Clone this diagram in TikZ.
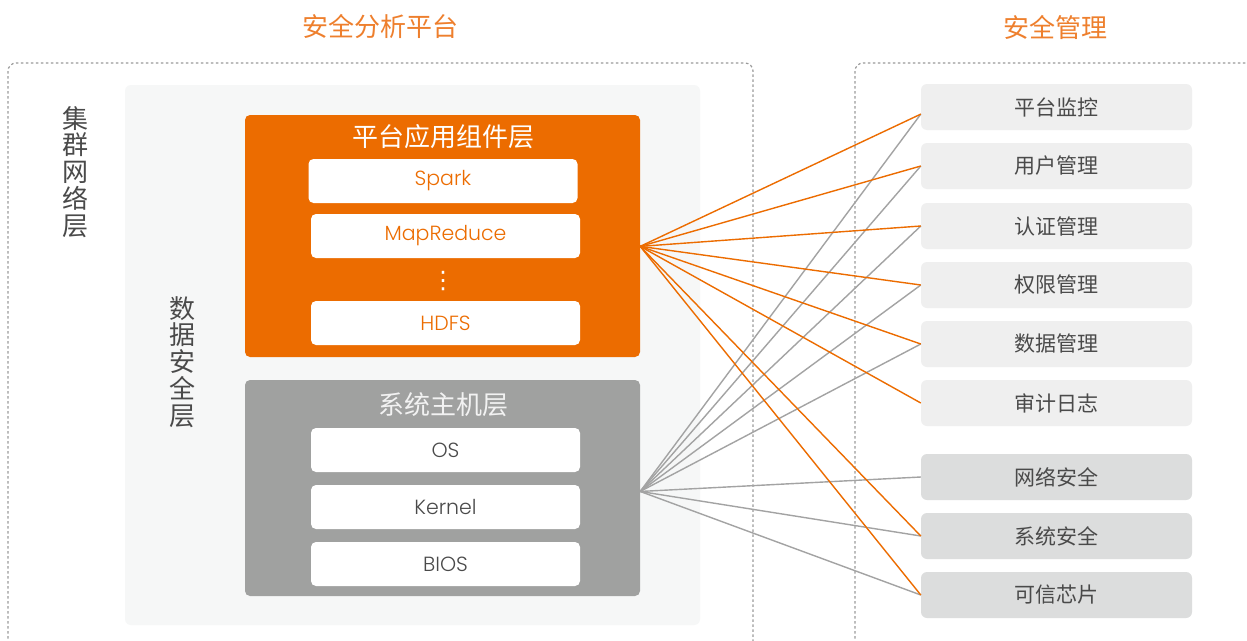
\documentclass[tikz,border=0pt]{standalone}
\usepackage{fontspec}
\setmainfont{Poppins}[UprightFont=* Light]
\newfontfamily\cjk{Noto Sans CJK SC}
\newfontfamily\dejavu{DejaVu Sans}
\usetikzlibrary{positioning}
\definecolor{brandorange}{HTML}{EC6C00}
\definecolor{titleorange}{HTML}{EE7F2D}
\definecolor{hostgray}{HTML}{A0A1A0}
\definecolor{panelgray}{HTML}{F6F7F7}
\definecolor{itemlight}{HTML}{EFEFEF}
\definecolor{itemdark}{HTML}{DCDDDD}
\definecolor{textgray}{HTML}{4A4A4A}
\definecolor{linegray}{HTML}{A3A3A3}
\definecolor{dashgray}{HTML}{9A9A9A}
\tikzset{
  frame/.style={draw=dashgray, line width=1.2pt, dash pattern=on 2.5pt off 2.5pt, rounded corners=8pt},
  layerbox/.style={rounded corners=5pt, minimum width=395pt, inner sep=0pt},
  compbox/.style={fill=white, rounded corners=5pt, minimum width=269pt, minimum height=44pt, inner sep=0pt, font=\fontsize{20.5}{20.5}\selectfont},
  mgmtbox/.style={rounded corners=6pt, minimum width=271pt, minimum height=46pt, inner sep=0pt, text=textgray, font=\cjk\fontsize{21}{21}\selectfont},
  vlabel/.style={align=center, inner sep=0pt, text=textgray, font=\cjk\fontsize{26}{26.8}\selectfont},
  appline/.style={draw=brandorange, line width=1.4pt},
  hostline/.style={draw=linegray, line width=1.4pt}
}

\begin{document}
\begin{tikzpicture}[x=1pt,y=-1pt]
\useasboundingbox[fill=white] (0,0) rectangle (1247,640);
% outer frames
\node[text=titleorange, font=\cjk\fontsize{26}{26}\selectfont] (ptitle) at (380,27) {安全分析平台};
\node[text=titleorange, font=\cjk\fontsize{26}{26}\selectfont] (mtitle) at (1055,27) {安全管理};
\draw[frame] (8,63) rectangle (753,670);
\draw[frame] (855,63) rectangle (1270,670);
\fill[panelgray, rounded corners=6pt] (125,85) rectangle (700,625);
\node[vlabel, anchor=north] (cluster) at (75,106) {集\\群\\网\\络\\层};
\node[vlabel, anchor=north] (datasec) at (182,296) {数\\据\\安\\全\\层};
% platform components
\node[layerbox, fill=brandorange, minimum height=242pt] (app) at (442.5,236) {};
\node[text=white, font=\cjk\fontsize{26}{26}\selectfont] (apptitle) at (443,137) {平台应用组件层};
\node[compbox, text=brandorange] (spark) at (443,181) {Spark};
\node[compbox, text=brandorange] (mapred) at (445.5,236) {MapReduce};
\node[text=white, font=\dejavu\fontsize{24}{24}\selectfont, inner sep=0pt] (vdots) at (443,281) {⋮};
\node[compbox, text=brandorange] (hdfs) at (445.5,323) {HDFS};
% host layer
\node[layerbox, fill=hostgray, minimum height=216pt] (host) at (442.5,488) {};
\node[text=white!95!black, font=\cjk\fontsize{26}{26}\selectfont] (hosttitle) at (443,405) {系统主机层};
\node[compbox, text=textgray] (os) at (445.5,450) {OS};
\node[compbox, text=textgray] (kernel) at (445.5,507) {Kernel};
\node[compbox, text=textgray] (bios) at (445.5,564) {BIOS};
% management items
\node[mgmtbox, fill=itemlight] (m1) at (1056.5,107) {平台监控};
\node[mgmtbox, fill=itemlight] (m2) at (1056.5,166) {用户管理};
\node[mgmtbox, fill=itemlight] (m3) at (1056.5,226) {认证管理};
\node[mgmtbox, fill=itemlight] (m4) at (1056.5,285) {权限管理};
\node[mgmtbox, fill=itemlight] (m5) at (1056.5,344) {数据管理};
\node[mgmtbox, fill=itemlight] (m6) at (1056.5,403) {审计日志};
\node[mgmtbox, fill=itemdark] (m7) at (1056.5,477) {网络安全};
\node[mgmtbox, fill=itemdark] (m8) at (1056.5,536) {系统安全};
\node[mgmtbox, fill=itemdark] (m9) at (1056.5,595) {可信芯片};
% host links
\draw[hostline] (host.-1.5) -- (m1.183);
\draw[hostline] (host.-1.5) -- (m2.west);
\draw[hostline] (host.-1.5) -- (m3.west);
\draw[hostline] (host.-1.5) -- (m4.west);
\draw[hostline] (host.-1.5) -- (m5.west);
\draw[hostline] (host.-1.5) -- (m7.west);
\draw[hostline] (host.-1.5) -- (m8.west);
\draw[hostline] (host.-1.5) -- (m9.west);
% platform links
\draw[appline] (app.-3) -- (m1.183);
\draw[appline] (app.-3) -- (m2.west);
\draw[appline] (app.-3) -- (m3.west);
\draw[appline] (app.-3) -- (m4.west);
\draw[appline] (app.-3) -- (m5.west);
\draw[appline] (app.-3) -- (m6.west);
\draw[appline] (app.-3) -- (m8.west);
\draw[appline] (app.-3) -- (m9.west);
\end{tikzpicture}
\end{document}
